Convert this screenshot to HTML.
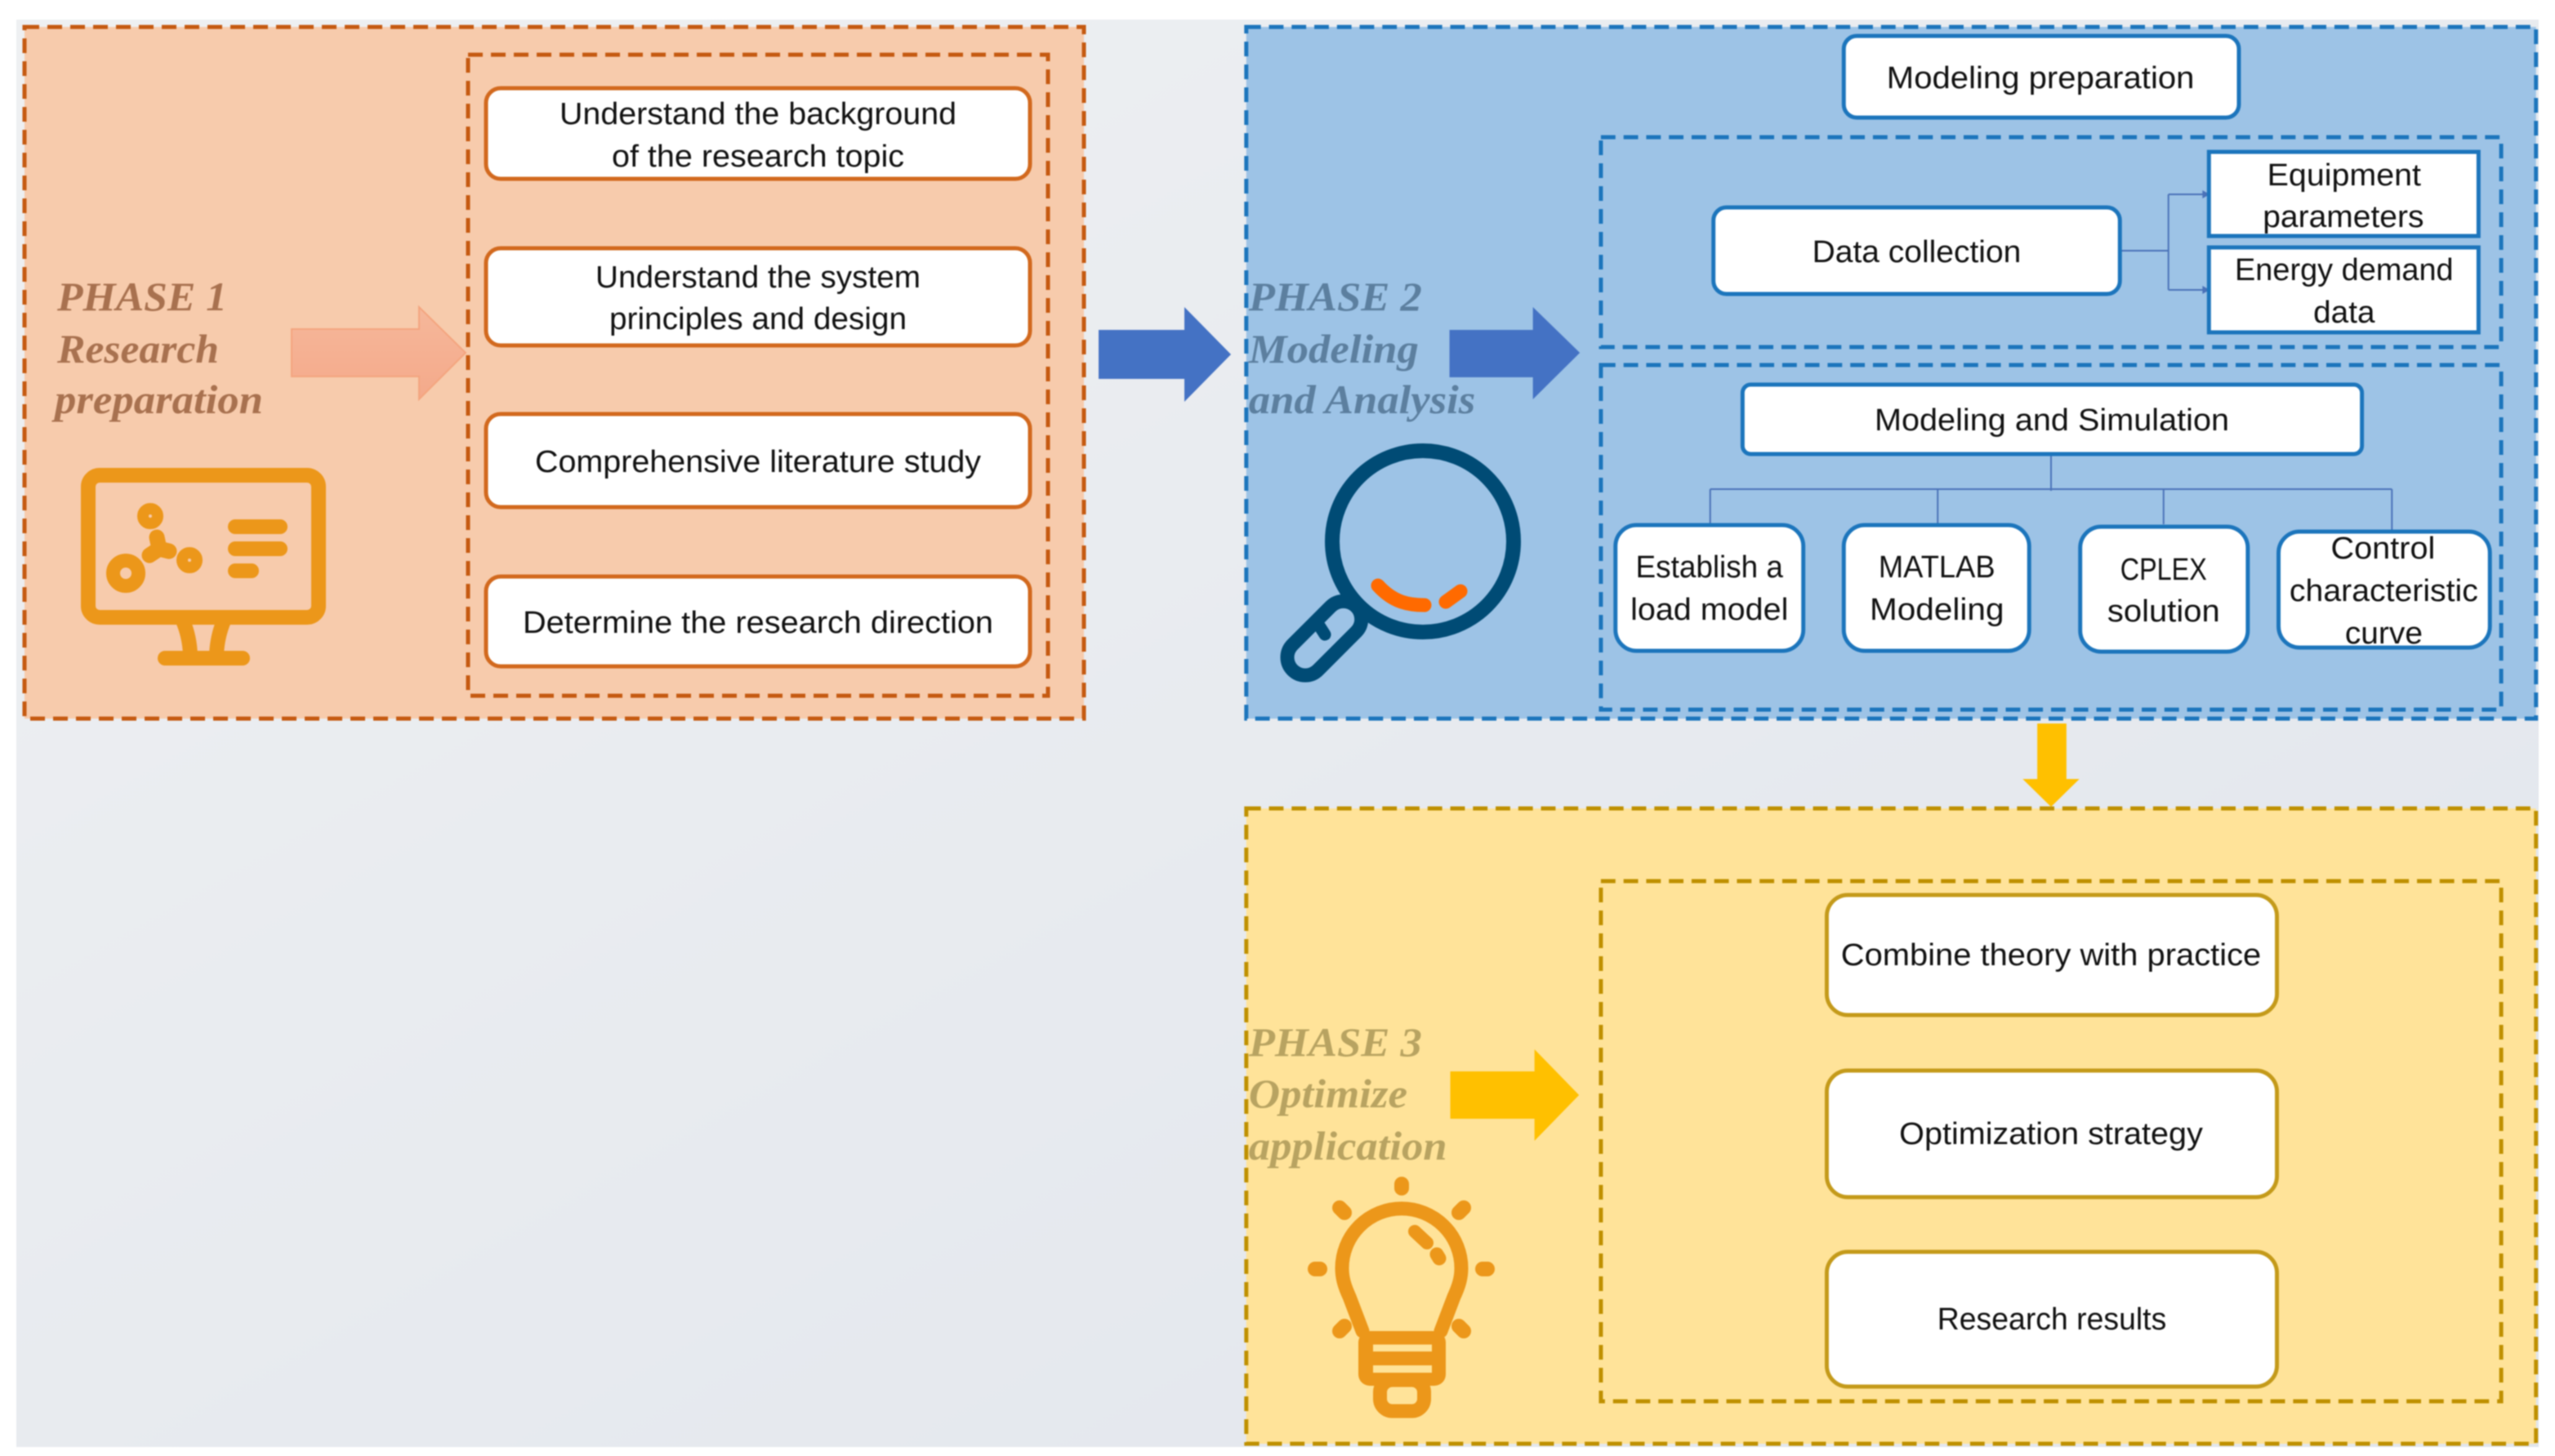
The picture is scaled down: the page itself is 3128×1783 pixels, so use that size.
<!DOCTYPE html>
<html><head><meta charset="utf-8"><style>
html,body{margin:0;padding:0;background:#fff;width:3128px;height:1783px;overflow:hidden}
svg{display:block;filter:blur(0.8px)}
.t{font-family:"Liberation Sans",sans-serif;font-size:38px;fill:#111;text-anchor:middle}
.p{font-family:"Liberation Serif",serif;font-size:50px;font-weight:bold;font-style:italic}
.c{fill:none;stroke-linecap:round;stroke-linejoin:round}
</style></head><body>
<svg width="3128" height="1783" viewBox="0 0 3128 1783">
<defs>
<linearGradient id="bg" x1="0" y1="0" x2="1" y2="1"><stop offset="0" stop-color="#eef0f2"/><stop offset="1" stop-color="#e1e5ec"/></linearGradient>
<linearGradient id="pk" x1="0" y1="0" x2="0" y2="1"><stop offset="0" stop-color="#f5b79a"/><stop offset="1" stop-color="#f4a98a"/></linearGradient>
</defs>
<rect x="20" y="24" width="3088" height="1748" fill="url(#bg)"/>

<!-- phase 1 panel -->
<rect x="30" y="33" width="1297" height="847" fill="#f7cbac" stroke="#c55a11" stroke-width="5" stroke-dasharray="18 10"/>
<rect x="573" y="67" width="710" height="785" fill="none" stroke="#c55a11" stroke-width="5" stroke-dasharray="18 10"/>
<polygon points="357,403 513,403 513,376 570,432 513,489 513,461 357,461" fill="url(#pk)" stroke="#f4a57f" stroke-width="2"/>
<polygon points="1345,404 1450,404 1450,376 1507,434 1450,492 1450,464 1345,464" fill="#4472c4"/>

<g class="p" fill="#a8714f">
<text x="70" y="380" textLength="208" lengthAdjust="spacingAndGlyphs">PHASE 1</text>
<text x="70" y="444" textLength="198" lengthAdjust="spacingAndGlyphs">Research</text>
<text x="67" y="506" textLength="255" lengthAdjust="spacingAndGlyphs">preparation</text>
</g>

<g fill="#fff" stroke="#d2691e" stroke-width="5">
<rect x="595" y="108" width="666" height="111" rx="18"/>
<rect x="595" y="304" width="666" height="119" rx="18"/>
<rect x="595" y="507" width="666" height="114" rx="18"/>
<rect x="595" y="706" width="666" height="110" rx="18"/>
</g>
<text class="t" x="928" y="152" textLength="486" lengthAdjust="spacingAndGlyphs">Understand the background</text>
<text class="t" x="928" y="204" textLength="358" lengthAdjust="spacingAndGlyphs">of the research topic</text>
<text class="t" x="928" y="352" textLength="398" lengthAdjust="spacingAndGlyphs">Understand the system</text>
<text class="t" x="928" y="403" textLength="364" lengthAdjust="spacingAndGlyphs">principles and design</text>
<text class="t" x="928" y="578" textLength="546" lengthAdjust="spacingAndGlyphs">Comprehensive literature study</text>
<text class="t" x="928" y="775" textLength="576" lengthAdjust="spacingAndGlyphs">Determine the research direction</text>

<!-- right side -->
<g transform="translate(1500 0) scale(0.9912 1) translate(-1500 0)">
<rect x="1526" y="33" width="1593" height="847" fill="#9dc3e6" stroke="#1c75bc" stroke-width="5" stroke-dasharray="18 10"/>
<rect x="1964" y="168" width="1112" height="257" fill="none" stroke="#1c75bc" stroke-width="5" stroke-dasharray="18 10"/>
<rect x="1964" y="447" width="1112" height="422" fill="none" stroke="#1c75bc" stroke-width="5" stroke-dasharray="18 10"/>
<rect x="1526" y="990" width="1593" height="778" fill="#ffe399" stroke="#bf9000" stroke-width="5" stroke-dasharray="18 10"/>
<rect x="1964" y="1079" width="1112" height="637" fill="none" stroke="#bf9000" stroke-width="5" stroke-dasharray="18 10"/>

<polygon points="1777,404 1880,404 1880,376 1938,432 1880,489 1880,462 1777,462" fill="#4472c4"/>
<polygon points="1778,1312 1882,1312 1882,1285 1937,1341 1882,1397 1882,1370 1778,1370" fill="#ffc000"/>
<polygon points="2503,886 2539,886 2539,954 2555,954 2520,988 2485,954 2503,954" fill="#ffc000"/>

<g class="p" fill="#5c7f9f">
<text x="1529" y="380" textLength="214" lengthAdjust="spacingAndGlyphs">PHASE 2</text>
<text x="1529" y="444" textLength="210" lengthAdjust="spacingAndGlyphs">Modeling</text>
<text x="1529" y="506" textLength="280" lengthAdjust="spacingAndGlyphs">and Analysis</text>
</g>
<g class="p" fill="#b8a361">
<text x="1529" y="1293" textLength="214" lengthAdjust="spacingAndGlyphs">PHASE 3</text>
<text x="1529" y="1356" textLength="196" lengthAdjust="spacingAndGlyphs">Optimize</text>
<text x="1529" y="1420" textLength="245" lengthAdjust="spacingAndGlyphs">application</text>
</g>

<g fill="none" stroke="#4a72b8" stroke-width="2">
<path d="M2605,307H2665M2665,238V355M2665,238H2713M2665,355H2713"/>
<path d="M2520,556V601M2099,599H2941M2099,599V642M2380,599V642M2659,599V642M2941,599V650"/>
</g>
<polygon points="2707,233 2716,238 2707,243" fill="#4a72b8"/>
<polygon points="2707,350 2716,355 2707,360" fill="#4a72b8"/>

<g fill="#fff" stroke="#1c75bc" stroke-width="5">
<rect x="2264" y="44" width="488" height="100" rx="16"/>
<rect x="2103" y="254" width="502" height="106" rx="16"/>
<rect x="2715" y="186" width="333" height="103"/>
<rect x="2715" y="303" width="333" height="104"/>
<rect x="2139" y="471" width="765" height="85" rx="10"/>
<rect x="1982" y="643" width="232" height="154" rx="26"/>
<rect x="2264" y="643" width="229" height="154" rx="26"/>
<rect x="2556" y="645" width="207" height="153" rx="26"/>
<rect x="2801" y="651" width="261" height="142" rx="26"/>
</g>
<g fill="#fff" stroke="#c49a1a" stroke-width="5">
<rect x="2243" y="1096" width="556" height="147" rx="26"/>
<rect x="2243" y="1311" width="556" height="155" rx="26"/>
<rect x="2243" y="1533" width="556" height="165" rx="26"/>
</g>

<text class="t" x="2507" y="108" textLength="380" lengthAdjust="spacingAndGlyphs">Modeling preparation</text>
<text class="t" x="2354" y="321" textLength="258" lengthAdjust="spacingAndGlyphs">Data collection</text>
<text class="t" x="2882" y="227" textLength="190" lengthAdjust="spacingAndGlyphs">Equipment</text>
<text class="t" x="2881" y="278" textLength="199" lengthAdjust="spacingAndGlyphs">parameters</text>
<text class="t" x="2882" y="343" textLength="270" lengthAdjust="spacingAndGlyphs">Energy demand</text>
<text class="t" x="2882" y="395" textLength="76" lengthAdjust="spacingAndGlyphs">data</text>
<text class="t" x="2521" y="527" textLength="438" lengthAdjust="spacingAndGlyphs">Modeling and Simulation</text>
<text class="t" x="2098" y="707" textLength="182" lengthAdjust="spacingAndGlyphs">Establish a</text>
<text class="t" x="2098" y="759" textLength="195" lengthAdjust="spacingAndGlyphs">load model</text>
<text class="t" x="2379" y="707" textLength="144" lengthAdjust="spacingAndGlyphs">MATLAB</text>
<text class="t" x="2379" y="759" textLength="166" lengthAdjust="spacingAndGlyphs">Modeling</text>
<text class="t" x="2659" y="710" textLength="107" lengthAdjust="spacingAndGlyphs">CPLEX</text>
<text class="t" x="2659" y="761" textLength="139" lengthAdjust="spacingAndGlyphs">solution</text>
<text class="t" x="2930" y="684" textLength="129" lengthAdjust="spacingAndGlyphs">Control</text>
<text class="t" x="2931" y="736" textLength="233" lengthAdjust="spacingAndGlyphs">characteristic</text>
<text class="t" x="2931" y="788" textLength="96" lengthAdjust="spacingAndGlyphs">curve</text>
<text class="t" x="2520" y="1182" textLength="519" lengthAdjust="spacingAndGlyphs">Combine theory with practice</text>
<text class="t" x="2520" y="1401" textLength="375" lengthAdjust="spacingAndGlyphs">Optimization strategy</text>
<text class="t" x="2521" y="1628" textLength="283" lengthAdjust="spacingAndGlyphs">Research results</text>
</g>

<!-- monitor icon -->
<g class="c" stroke="#ec971a">
<rect x="108" y="582" width="282" height="174" rx="14" stroke-width="18"/>
<circle cx="154" cy="702" r="15.5" stroke-width="17"/>
<circle cx="184" cy="632" r="9" stroke-width="14"/>
<circle cx="232" cy="686" r="9" stroke-width="14"/>
<path d="M192,658L195,672M183,680L195,672L207,675" stroke-width="19"/>
<path d="M288,645H343M288,672H343M288,699H308" stroke-width="18"/>
<path d="M223,758Q232,778 233,802M275,758Q266,778 265,802" stroke-width="18" stroke-linecap="butt"/>
<path d="M202,806H297" stroke-width="18"/>
</g>

<!-- magnifier icon -->
<g class="c" stroke="#004b75">
<g transform="translate(1598,805) rotate(-45)"><rect x="-22" y="-22" width="110" height="44" rx="22" stroke-width="17"/></g>
<path d="M1613,763L1622,777" stroke-width="15"/>
<circle cx="1742" cy="663" r="111" stroke-width="18"/>
</g>
<path class="c" d="M1687,717C1706,738 1725,741 1744,741M1770,737L1788,724" stroke="#ff6a00" stroke-width="17"/>

<!-- bulb icon -->
<g class="c" stroke="#ec971a">
<path d="M1668,1630L1652,1588C1646,1575 1643,1565 1643,1553A73,73 0 0 1 1789,1553C1789,1565 1786,1575 1780,1588L1764,1630" stroke-width="17"/>
<rect x="1689.5" y="1690" width="54" height="38" rx="15" stroke-width="17"/>
<path d="M1716,1450V1455M1640,1479L1646,1485M1792,1479L1786,1485M1610,1554H1616M1815,1554H1821M1640,1630L1646,1624M1792,1630L1786,1624" stroke-width="18"/>
<path d="M1732,1508L1747,1522" stroke-width="16"/>
<path d="M1759,1536L1762,1541" stroke-width="17"/>
</g>
<rect x="1663" y="1630" width="107" height="67" rx="14" fill="#ec971a"/>
<rect x="1681" y="1646.5" width="72" height="8.5" fill="#ffe399"/>
<rect x="1681" y="1672" width="72" height="9" fill="#ffe399"/>
</svg>
</body></html>
